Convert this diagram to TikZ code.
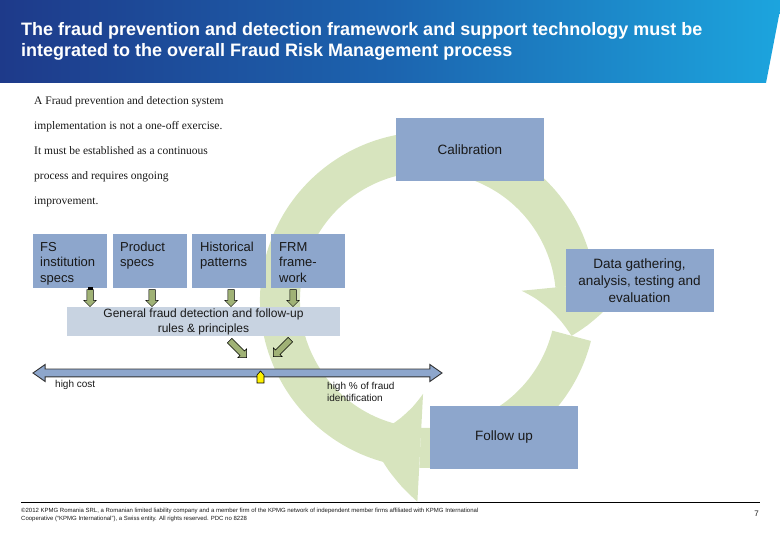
\documentclass[tikz,border=0pt]{standalone}
\usepackage{fontspec}
\setmainfont{Liberation Sans}
\newfontfamily\parafont{Liberation Serif}
\usetikzlibrary{positioning,calc,shapes.arrows,arrows.meta,bending}

\definecolor{boxblue}{RGB}{141,166,204}
\definecolor{rulesblue}{RGB}{200,211,225}
\definecolor{ringgreen}{RGB}{215,228,190}
\definecolor{arrolive}{RGB}{160,178,118}
\definecolor{bannerdark}{RGB}{30,58,138}
\definecolor{bannermid}{RGB}{28,100,175}
\definecolor{bannerlight}{RGB}{28,165,222}
\definecolor{txt}{RGB}{25,25,25}

\tikzset{
  smallbox/.style={fill=boxblue, anchor=north west, minimum width=74pt, minimum height=54pt, inner sep=0pt},
  boxtxt/.style={anchor=base west, align=left, inner sep=0pt, text=txt, font=\fontsize{13}{15.5}\selectfont},
  bigbox/.style={fill=boxblue, minimum width=148pt, minimum height=63pt, align=center, text=txt, font=\fontsize{13.5}{17}\selectfont},
  rulesbox/.style={fill=rulesblue, minimum width=273pt, minimum height=29pt, align=center, inner sep=0pt, text=txt, font=\fontsize{12}{15}\selectfont},
  fatarr/.style={single arrow, fill=arrolive, draw=black, line width=0.5pt, inner sep=3pt, single arrow head extend=3pt, single arrow head indent=0pt},
  scalearr/.style={double arrow, fill=boxblue, draw=black!80, line width=0.9pt, inner sep=3.5pt, double arrow head extend=4.5pt, double arrow tip angle=70, minimum height=409pt},
  ring/.style={draw=ringgreen, line width=40pt, -{Triangle[length=52pt, width=108pt, line width=0pt, bend]}},
  lbl/.style={anchor=base west, align=left, inner sep=0pt, text=txt, font=\fontsize{10}{12}\selectfont},
  para/.style={anchor=base west, inner sep=0pt, text=txt, font=\parafont\fontsize{11.5}{13}\selectfont},
  foot/.style={anchor=base west, align=left, inner sep=0pt, text=txt, font=\fontsize{6}{7.5}\selectfont},
}

\begin{document}
\begin{tikzpicture}[x=1pt,y=-1pt]
\useasboundingbox (0,0) rectangle (780,540);

% banner
\shade[left color=bannerdark, right color=bannerlight, middle color=bannermid] (0,0) -- (782,0) -- (766,83) -- (0,83) -- cycle;
\node[anchor=base west, align=left, inner sep=0pt, text=white, font=\fontsize{18}{21}\selectfont\bfseries] (ttl) at (21,57)
  {The fraud prevention and detection framework and support technology must be\\integrated to the overall Fraud Risk Management process};

% cycle
\coordinate (ctr) at (428,300);
\draw[ring] ($(ctr)+(256:148pt)$) arc[start angle=256, end angle=-14, radius=148pt];
\draw[ring] ($(ctr)+(-14:148pt)$) arc[start angle=-14, end angle=-113, radius=148pt];

\node[bigbox] (cal) at (470,150) {Calibration};
\node[bigbox] (data) at (639.5,280.5) {Data gathering,\\analysis, testing and\\evaluation};
\node[bigbox] (follow) at (504,437.5) {Follow up};

% left text
\foreach \t [count=\i] in {A Fraud prevention and detection system, implementation is not a one-off exercise., It must be established as a continuous, process and requires ongoing, improvement.}
  \node[para] (p\i) at (34,80+25*\i) {\t};

% input boxes
\node[smallbox] (fs) at (33,234) {};
\node[smallbox] (prod) at (113,234) {};
\node[smallbox] (hist) at (192,234) {};
\node[smallbox] (frm) at (271,234) {};
\node[boxtxt] (fstxt) at ([xshift=7pt,yshift=-48.5pt]fs.north west) {FS\\institution\\specs};
\node[boxtxt] (prodtxt) at ([xshift=7pt,yshift=-33pt]prod.north west) {Product\\specs};
\node[boxtxt] (histtxt) at ([xshift=8pt,yshift=-33pt]hist.north west) {Historical\\patterns};
\node[boxtxt] (frmtxt) at ([xshift=8pt,yshift=-48.5pt]frm.north west) {FRM\\frame-\\work};

\node[rulesbox] (rules) at (203.5,321.5) {General fraud detection and follow-up\\rules \& principles};

\foreach \x/\n in {90/a,152/b,231/c,293/d}
  \node[fatarr, rotate=-90, minimum height=17pt] (dn\n) at (\x,296.5) {};
\fill[black] (88,287) rectangle (93,290.5);

\node[fatarr, rotate=-45, minimum height=24pt] (dg1) at (237,348) {};
\node[fatarr, rotate=-135, minimum height=24pt] (dg2) at (283,347) {};

% scale
\node[scalearr] (scale) at (237.5,373) {};
\filldraw[fill=yellow, draw=black, line width=0.6pt] (257,383) -- (257,375) -- (260.5,371) -- (264,375) -- (264,383) -- cycle;
\node[lbl] (cost) at (55,388) {high cost};
\node[lbl] (ident) at (327,401) {high \% of fraud\\identification};

% footer
\draw[line width=0.8pt] (21,502) -- (760,502);
\node[foot] (legal) at (21,520) {©2012 KPMG Romania SRL, a Romanian limited liability company and a member firm of the KPMG network of independent member firms affiliated with KPMG International\\Cooperative (``KPMG International''), a Swiss entity. All rights reserved. PDC no 8228};
\node[anchor=base east, inner sep=0pt, text=txt, font=\fontsize{8}{9}\selectfont] (page) at (759,516) {7};
\end{tikzpicture}
\end{document}
